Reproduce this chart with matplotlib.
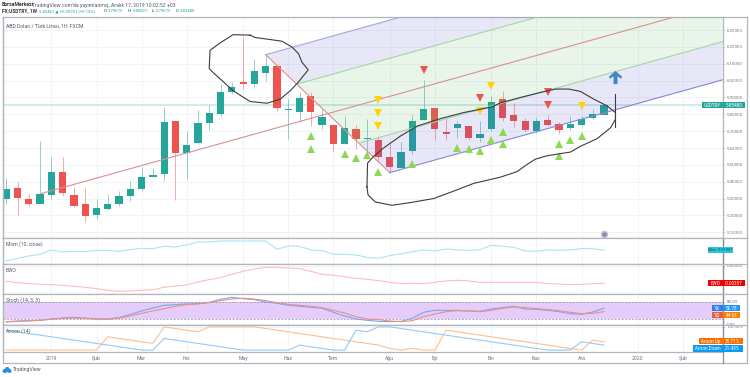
import numpy as np
import matplotlib
matplotlib.use('Agg')
import matplotlib.pyplot as plt
from matplotlib.patches import Rectangle, Ellipse

plt.rcParams['font.family'] = ['Roboto', 'DejaVu Sans']

# weekly candles: open, high, low, close
opens = [5.296, 5.364, 5.296, 5.266, 5.324, 5.458, 5.32, 5.266, 5.202, 5.238, 5.266, 5.314, 5.356, 5.428,
         5.446, 5.76, 5.568, 5.628, 5.75, 5.80, 5.93, 5.99, 5.98, 6.046, 6.086, 5.826, 5.816, 5.91, 5.736,
         5.736, 5.624, 5.714, 5.656, 5.648, 5.544, 5.484, 5.58, 5.768, 5.836, 5.694, 5.716, 5.728, 5.66,
         5.71, 5.89, 5.794, 5.758, 5.70, 5.764, 5.74, 5.718, 5.736, 5.778, 5.79675]
highs = [5.424, 5.40, 5.326, 5.64, 5.548, 5.544, 5.37, 5.364, 5.296, 5.326, 5.346, 5.406, 5.49, 5.482,
         5.844, 5.76, 5.70, 5.826, 5.854, 5.982, 5.99, 6.26, 6.13, 6.154, 6.086, 5.89, 5.934, 5.93, 5.83,
         5.736, 5.788, 5.734, 5.774, 5.67, 5.624, 5.636, 5.794, 6.004, 5.836, 5.776, 5.76, 5.728, 5.76,
         5.906, 5.94, 5.866, 5.776, 5.776, 5.796, 5.752, 5.79, 5.79, 5.83, 5.85827]
lows = [5.27, 5.204, 5.254, 5.266, 5.296, 5.318, 5.248, 5.16, 5.18, 5.234, 5.256, 5.288, 5.344, 5.428,
        5.406, 5.294, 5.418, 5.624, 5.706, 5.79, 5.92, 5.95, 5.96, 6.0, 5.82, 5.656, 5.756, 5.73, 5.71,
        5.576, 5.624, 5.596, 5.57, 5.516, 5.454, 5.484, 5.564, 5.768, 5.65, 5.648, 5.66, 5.65, 5.636,
        5.70, 5.76, 5.726, 5.696, 5.69, 5.73, 5.684, 5.704, 5.73, 5.77, 5.79675]
closes = [5.358, 5.304, 5.266, 5.326, 5.456, 5.33, 5.254, 5.194, 5.246, 5.27, 5.318, 5.356, 5.426, 5.442,
          5.754, 5.568, 5.62, 5.748, 5.808, 5.93, 5.964, 5.982, 6.056, 6.086, 5.836, 5.832, 5.894, 5.816,
          5.782, 5.624, 5.72, 5.656, 5.662, 5.544, 5.49, 5.576, 5.758, 5.832, 5.712, 5.682, 5.74, 5.662,
          5.686, 5.876, 5.778, 5.762, 5.706, 5.76, 5.736, 5.708, 5.742, 5.77, 5.802, 5.8548]
last_price = 5.8548

# pitchfork anchors (week, price)
fork_x = [3, 23, 34]
fork_y = [5.328, 6.154, 5.454]

# signal markers (week, price)
up_x = [27, 27, 30, 31, 32, 33, 36, 40, 41, 42, 43, 44, 44, 49, 49, 50, 51]
up_y = [5.674, 5.596, 5.566, 5.538, 5.556, 5.456, 5.506, 5.602, 5.592, 5.58, 5.646, 5.698, 5.624, 5.626, 5.55,
        5.646, 5.674]
yellow_x = [33, 33, 33, 42, 43, 51]
yellow_y = [5.886, 5.81, 5.73, 5.82, 5.966, 5.852]
red_x = [37, 42, 48, 48]
red_y = [6.064, 5.896, 5.934, 5.856]
arrow_x = [54]
arrow_y = [6.02]

# hand drawn loops
loop1_x = [21.62, 20.11, 18.96, 18.07, 17.99, 18.34, 19.14, 20.11, 21.62, 23.11, 24.29, 25.17, 25.88, 26.77,
           26.21, 25.91, 25.32, 24.44, 23.4, 22.07, 21.62]
loop1_y = [6.27, 6.273, 6.224, 6.18, 6.072, 6.048, 6.0, 5.94, 5.876, 5.866, 5.89, 5.94, 5.99, 6.064,
           6.11, 6.16, 6.2, 6.234, 6.244, 6.256, 6.27]
loop2_x = [31.98, 32.07, 32.71, 34.2, 35.82, 37.89, 39.66, 41.44, 43.81, 45.29, 46.03, 46.91, 47.95, 50.02,
           50.9, 52.39, 53.57, 54.01, 54.01, 53.27, 52.09, 50.9, 49.87, 48.69, 47.36, 45.58, 43.81, 43.07,
           40.52, 38.48, 36.42, 34.93, 33.45, 32.56, 32.03, 31.98]
loop2_y = [5.37, 5.322, 5.28, 5.26, 5.276, 5.30, 5.344, 5.39, 5.427, 5.46, 5.496, 5.534, 5.554, 5.576,
           5.61, 5.656, 5.72, 5.77, 5.81, 5.85, 5.89, 5.936, 5.95, 5.95, 5.93, 5.90, 5.868, 5.844,
           5.81, 5.774, 5.73, 5.67, 5.6, 5.55, 5.51, 5.37]
stroke_x = [54, 54]
stroke_y = [5.92, 5.724]

# indicators
mom = [-0.34, -0.26, -0.19, -0.14, -0.01, -0.07, -0.05, -0.06, -0.02, -0.02, -0.05, 0.0, 0.04, 0.03, 0.10, 0.08,
       0.14, 0.23, 0.23, 0.26, 0.26, 0.26, 0.26, 0.26, 0.01, 0.11, 0.10, -0.01, -0.03, -0.14, -0.14, -0.16, -0.23,
       -0.26, -0.18, -0.12, -0.06, -0.01, -0.04, 0.02, -0.01, -0.02, 0.0, 0.13, 0.10, 0.07, -0.04, -0.05, -0.01,
       -0.02, -0.01, 0.03, 0.03, -0.01907]
ewo = [0.053, 0.015, -0.014, -0.033, -0.042, -0.061, -0.09, -0.118, -0.156, -0.204, -0.232, -0.223, -0.204, -0.185,
       -0.118, -0.08, -0.052, 0.034, 0.1, 0.158, 0.253, 0.338, 0.405, 0.452, 0.452, 0.433, 0.414, 0.338, 0.253,
       0.224, 0.186, 0.139, 0.11, 0.072, 0.025, -0.014, -0.004, -0.014, 0.025, 0.063, 0.082, 0.063, 0.025, 0.025,
       0.025, 0.025, 0.025, 0.025, -0.014, -0.023, -0.042, -0.033, -0.014, -0.00357]
stoch_k = [9.4, 11.8, 12.9, 14.1, 18.8, 22.4, 24.7, 21.2, 18.8, 18.8, 23.5, 35.3, 47.1, 57.6, 67.1, 69.4, 71.8, 72.9,
           77.6, 88.2, 95.3, 90.6, 87.1, 78.8, 74.1, 67.1, 63.5, 60.0, 56.5, 42.4, 29.4, 18.8, 14.1, 10.6, 9.4, 10.6,
           21.2, 42.4, 49.4, 49.4, 49.4, 47.1, 45.9, 54.1, 58.8, 63.5, 54.1, 52.9, 49.4, 44.7, 37.6, 35.3, 43.5, 56.78]
stoch_d = [8.2, 10.6, 11.8, 14.1, 17.6, 21.2, 22.4, 21.2, 20.0, 17.6, 22.4, 29.4, 38.8, 47.1, 55.3, 63.5, 69.4, 71.8,
           76.5, 83.5, 89.4, 91.8, 89.4, 83.5, 76.5, 70.6, 67.1, 63.5, 58.8, 49.4, 40.0, 27.1, 18.8, 16.5, 11.8, 9.4,
           12.9, 27.1, 36.5, 44.7, 48.2, 47.1, 44.7, 49.4, 56.5, 61.2, 58.8, 55.3, 51.8, 48.2, 42.4, 37.6, 38.8, 44.63]
aroon_up = [0, 0, 0, 0, 0, 0, 0, 0, 0, 57.14, 50, 42.86, 35.71, 28.57, 100, 92.86, 85.71, 78.57, 100, 100, 100, 100,
            100, 92.86, 85.71, 78.57, 71.43, 64.29, 57.14, 50, 42.86, 35.71, 28.57, 21.43, 7.14, 0, 7.14, 0, 0, 85.71,
            78.57, 71.43, 64.29, 57.14, 50, 42.86, 35.71, 28.57, 21.43, 14.29, 7.14, 0, 42.86, 35.71]
aroon_down = [85.71, 78.57, 71.43, 64.29, 57.14, 50, 42.86, 35.71, 28.57, 21.43, 14.29, 7.14, 0, 0, 50, 42.86, 35.71,
              28.57, 21.43, 14.29, 7.14, 0, 0, 0, 0, 0, 21.43, 14.29, 7.14, 0, 0, 85.71, 78.57, 100, 100, 92.86, 85.71,
              78.57, 71.43, 64.29, 57.14, 50, 42.86, 35.71, 28.57, 21.43, 14.29, 7.14, 0, 0, 0, 35.71, 28.57, 21.43]

# axis labels
date_ticks = [4, 8, 12, 16, 21, 25, 29, 34, 38, 43, 47, 51, 56, 60]
date_labels = ['2019', 'Şub', 'Mar', 'Nis', 'May', 'Haz', 'Tem', 'Ağu', 'Eyl', 'Eki', 'Kas', 'Ara', '2020', 'Şub']
price_ticks = [5.1, 5.2, 5.3, 5.4, 5.5, 5.6, 5.7, 5.8, 5.9, 6.0, 6.1, 6.2, 6.3]

W, H = 750, 377
GREEN = '#26a69a'
RED = '#ef5350'
BORDER = '#b2b5be'
GRID = '#eff2f6'
TXT = '#6f7480'
FS = 3.7
TICK_FS = 3.2

weeks = np.arange(len(closes))
xlim = (-0.29, 63.5)


def pane(top, bottom, ylim):
    a = fig.add_axes([3 / W, 1 - bottom / H, 719.5 / W, (bottom - top) / H])
    a.set_xlim(xlim)
    a.set_ylim(ylim)
    a.set_xticks(date_ticks)
    a.set_xticklabels([])
    a.yaxis.tick_right()
    a.tick_params(length=1.5, width=0.4, color=BORDER, labelsize=TICK_FS, labelcolor=TXT, pad=1.5)
    a.tick_params(axis='x', length=0)
    a.grid(True, color=GRID, linewidth=0.6)
    a.set_axisbelow(True)
    for s in a.spines.values():
        s.set_color(BORDER)
        s.set_linewidth(0.9)
    return a


def tag(a, value, left, right, c1, c2, x0, x1, split=722.5, shift=0, text_col='white', size=3.3):
    # price label sitting on the right scale, shift in px pushes it down when tags collide
    y = (a.transData.transform((0, value))[1] - shift) / H
    h = 6.4 / H
    fig.add_artist(Rectangle((x0 / W, y - h / 2), (split - x0) / W, h, transform=fig.transFigure,
                             color=c1, lw=0, zorder=20))
    fig.add_artist(Rectangle((split / W, y - h / 2), (x1 - split) / W, h, transform=fig.transFigure,
                             color=c2, lw=0, zorder=20))
    fig.text((x0 + split) / 2 / W, y, left, color=text_col, fontsize=size, ha='center', va='center', zorder=21)
    fig.text((x1 + split) / 2 / W, y, right, color=text_col, fontsize=size, ha='center', va='center', zorder=21)


fig = plt.figure(figsize=(W / 100, H / 100), dpi=100, facecolor='white')

# main pane
ax = pane(17.3, 238.3, (5.064, 6.376))
ax.set_yticks(price_ticks)
ax.set_yticklabels(['%.5f' % p for p in price_ticks])
ax.axhline(last_price, color=GREEN, alpha=0.22, linewidth=1.4, zorder=1)

for i in weeks:
    col = GREEN if closes[i] >= opens[i] else RED
    ax.vlines(i, lows[i], highs[i], color=col, alpha=0.5, linewidth=0.7, zorder=2)
ax.bar(weeks, np.abs(np.array(closes) - np.array(opens)), bottom=np.minimum(opens, closes), width=0.64,
       color=[GREEN if c >= o else RED for o, c in zip(opens, closes)], zorder=3)

# pitchfork
mid_x = (fork_x[1] + fork_x[2]) / 2
mid_y = (fork_y[1] + fork_y[2]) / 2
slope = (mid_y - fork_y[0]) / (mid_x - fork_x[0])
right = xlim[1]
hi_green_x0 = (fork_x[1] + mid_x) / 2
lo_green_x0 = (fork_x[2] + mid_x) / 2
hi_green_y0 = (fork_y[1] + mid_y) / 2
lo_green_y0 = (fork_y[2] + mid_y) / 2


def hi_blue(x):
    return fork_y[1] + slope * (x - fork_x[1])


def lo_blue(x):
    return fork_y[2] + slope * (x - fork_x[2])


def hi_green(x):
    return hi_green_y0 + slope * (x - hi_green_x0)


def lo_green(x):
    return lo_green_y0 + slope * (x - lo_green_x0)


ax.fill([fork_x[1], hi_green_x0, right, right], [fork_y[1], hi_green_y0, hi_green(right), hi_blue(right)],
        color='#3f3fc4', alpha=0.12, lw=0, zorder=4)
ax.fill([hi_green_x0, lo_green_x0, right, right], [hi_green_y0, lo_green_y0, lo_green(right), hi_green(right)],
        color='#4caf50', alpha=0.12, lw=0, zorder=4)
ax.fill([lo_green_x0, fork_x[2], right, right], [lo_green_y0, fork_y[2], lo_blue(right), lo_green(right)],
        color='#3f3fc4', alpha=0.12, lw=0, zorder=4)
ax.plot([fork_x[1], fork_x[2]], [fork_y[1], fork_y[2]], color='#d9908f', linewidth=0.8, zorder=5)
ax.plot([fork_x[0], right], [fork_y[0], fork_y[0] + slope * (right - fork_x[0])], color='#d9908f',
        linewidth=0.8, zorder=5)
ax.plot([fork_x[1], right], [fork_y[1], hi_blue(right)], color='#a5a5e4', linewidth=0.8, zorder=5)
ax.plot([fork_x[2], right], [fork_y[2], lo_blue(right)], color='#8585d8', linewidth=0.8, zorder=5)
ax.plot([hi_green_x0, right], [hi_green_y0, hi_green(right)], color='#a3d6a5', linewidth=0.8, zorder=5)
ax.plot([lo_green_x0, right], [lo_green_y0, lo_green(right)], color='#a3d6a5', linewidth=0.8, zorder=5)

# signals
ax.plot(up_x, up_y, '^', color='#8ed857', markersize=6.2, markeredgewidth=0, zorder=6)
ax.plot(yellow_x, yellow_y, 'v', color='#ffd20a', markersize=6.2, markeredgewidth=0, zorder=6)
ax.plot(red_x, red_y, 'v', color='#ef5350', markersize=6.2, markeredgewidth=0, zorder=6)
ax.plot(arrow_x, arrow_y, color='#3d85c6', marker=[(0, 1), (1, 0.1), (0.85, -0.2), (0.3, 0.2), (0.3, -1), (-0.3, -1),
                                                  (-0.3, 0.2), (-0.85, -0.2), (-1, 0.1)],
        markersize=9.5, markeredgewidth=0, linestyle='none', zorder=7)

# hand drawn marks
ax.plot(loop1_x, loop1_y, color='#3c3c3c', linewidth=0.8, zorder=8)
ax.plot(loop2_x, loop2_y, color='#3c3c3c', linewidth=0.8, zorder=8)
ax.plot(stroke_x, stroke_y, color='#3c3c3c', linewidth=0.8, zorder=8)

# small event icon on the time line
ax.scatter([53], [5.088], s=22, facecolor='#fdecec', edgecolor='#ef9a9a', linewidth=0.6, zorder=6)
ax.scatter([53], [5.088], s=6, color='#5b9bd5', zorder=7)

ax.text(0.004, 0.97, 'ABD Doları / Türk Lirası, 1H, FXCM', transform=ax.transAxes, fontsize=FS,
        color='#555a66', va='top')

# momentum
ax_mom = pane(238.3, 264, (-0.43, 0.34))
ax_mom.set_yticks([])
ax_mom.plot(weeks, mom, color='#a8e6ef', linewidth=0.8)
ax_mom.text(0.004, 0.76, 'Mom (10, close)', transform=ax_mom.transAxes, fontsize=FS, color='#555a66', va='center')

# ewo
ax_ewo = pane(264, 294.3, (-0.318, 0.547))
ax_ewo.set_yticks([0.5])
ax_ewo.set_yticklabels(['0.50000'])
ax_ewo.plot(weeks, ewo, color='#ffbcbc', linewidth=0.8)
ax_ewo.text(0.004, 0.8, 'EWO', transform=ax_ewo.transAxes, fontsize=FS, color='#555a66', va='center')

# stochastic
ax_st = pane(294.3, 325, (-2.4, 105.9))
ax_st.set_yticks([0, 80])
ax_st.set_yticklabels(['0.00', '80.00'])
ax_st.axhspan(20, 80, color='#e5ccfb', lw=0, zorder=1)
ax_st.axhline(80, color='#8f8f9a', linewidth=0.5, linestyle=(0, (3, 2)), zorder=2)
ax_st.axhline(20, color='#8f8f9a', linewidth=0.5, linestyle=(0, (3, 2)), zorder=2)
ax_st.plot(weeks, stoch_k, color='#75a8f2', linewidth=0.8, zorder=3)
ax_st.plot(weeks, stoch_d, color='#ef8f7a', linewidth=0.8, zorder=3)
ax_st.text(0.004, 0.82, 'Stoch (14, 3, 3)', transform=ax_st.transAxes, fontsize=FS, color='#555a66', va='center')

# aroon
ax_ar = pane(325, 352.3, (-9.5, 108))
ax_ar.set_yticks([100])
ax_ar.set_yticklabels(['100.00%'])
ax_ar.plot(weeks, aroon_up, color='#ffbe8c', linewidth=0.8)
ax_ar.plot(weeks, aroon_down, color='#90caf9', linewidth=0.8)
ax_ar.text(0.004, 0.77, 'Aroon (14)', transform=ax_ar.transAxes, fontsize=FS, color='#555a66', va='center')
ax_ar.set_xticklabels(date_labels)
ax_ar.tick_params(axis='x', labelsize=FS, pad=3)

# price tags
tag(ax, last_price, 'USDTRY', '5.85480', GREEN, GREEN, 702, 745)
tag(ax_mom, mom[-1], 'Mom', '-0.01907', '#26c6da', '#26c6da', 708, 733, split=717.5, text_col='#1f5560', size=2.9)
tag(ax_ewo, ewo[-1], 'EWO', '-0.00357', '#f00000', '#f00000', 708, 745)
tag(ax_st, stoch_k[-1], '%K', '56.78', '#2f7fe8', '#2196f3', 712, 740)
tag(ax_st, stoch_d[-1], '%D', '44.63', '#e5603f', '#ff7f00', 712, 740, shift=3.4)
tag(ax_ar, aroon_up[-1], 'Aroon Up', '35.71%', '#ff6d00', '#ff6d00', 699, 743, shift=-0.5)
tag(ax_ar, aroon_down[-1], 'Aroon Down', '21.43%', '#0a9bf5', '#0a9bf5', 693, 743, shift=3.3)

# outer frame
fig.add_artist(plt.Line2D([2.5 / W, 2.5 / W, 747 / W, 747 / W], [1 - 17.3 / H, 1 - 363.3 / H, 1 - 363.3 / H, 1 - 17.3 / H],
                          color=BORDER, linewidth=0.9))
fig.add_artist(plt.Line2D([722.5 / W, 747 / W], [1 - 17.3 / H, 1 - 17.3 / H], color=BORDER, linewidth=0.9))
fig.add_artist(plt.Line2D([722.5 / W, 722.5 / W], [1 - 238 / H, 1 - 363.3 / H], color='#8a8d95', linewidth=0.9))
for y in [238.3, 264, 294.3, 325]:
    fig.add_artist(plt.Line2D([722 / W, 747 / W], [1 - y / H, 1 - y / H], color=BORDER, linewidth=0.9))

# header lines
fig.text(2 / W, 1 - 5 / H, 'BorsaMerkezi', fontsize=FS, fontweight='bold', color='#333333', va='center')
fig.text(32 / W, 1 - 5 / H, "TradingView.com'da yayımlanmış, Aralık 17, 2019 10:02:52 +03", fontsize=FS,
         color='#555a66', va='center')
fig.text(2 / W, 1 - 11 / H, 'FX:USDTRY, 1W', fontsize=3.5, fontweight='bold', color='#333333', va='center')
fig.text(39 / W, 1 - 11 / H, '5.85461 ▲ +0.00751 (+0.13%)', fontsize=3.1, color=GREEN, va='center')
fig.text(104 / W, 1 - 11 / H, 'O:', fontsize=3.1, color='#333333', va='center')
fig.text(108 / W, 1 - 11 / H, '5.79675', fontsize=3.1, color=GREEN, va='center')
fig.text(128 / W, 1 - 11 / H, 'H:', fontsize=3.1, color='#333333', va='center')
fig.text(133 / W, 1 - 11 / H, '5.85827', fontsize=3.1, color=GREEN, va='center')
fig.text(152 / W, 1 - 11 / H, 'L:', fontsize=3.1, color='#333333', va='center')
fig.text(156 / W, 1 - 11 / H, '5.79675', fontsize=3.1, color=GREEN, va='center')
fig.text(176 / W, 1 - 11 / H, 'C:', fontsize=3.1, color='#333333', va='center')
fig.text(180 / W, 1 - 11 / H, '5.85480', fontsize=3.1, color=GREEN, va='center')

# footer logo, a small cloud made of blobs
for cx, cy, ew, eh in [(5, 371, 5, 4), (7.2, 369.5, 5, 5), (9.5, 371, 4, 4)]:
    fig.add_artist(Ellipse((cx / W, 1 - cy / H), ew / W, eh / H, transform=fig.transFigure, color='#2a8fe0', lw=0))
fig.text(13 / W, 1 - 370 / H, 'TradingView', fontsize=FS, color='#555a66', va='center')

fig.savefig('out.png', dpi=100, facecolor='white')
